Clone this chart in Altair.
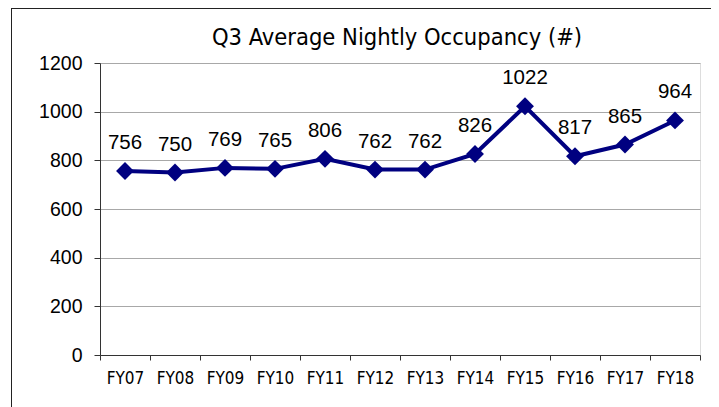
import altair as alt
import pandas as pd

years = ["FY07", "FY08", "FY09", "FY10", "FY11", "FY12", "FY13", "FY14", "FY15", "FY16", "FY17", "FY18"]
occupancy = [756, 750, 769, 765, 806, 762, 762, 826, 1022, 817, 865, 964]
title_text = "Q3 Average Nightly Occupancy (#)"

df = pd.DataFrame({"year": years, "value": occupancy})

NAVY = "#000080"
COND = "Liberation Sans Narrow, DejaVu Sans Condensed, Roboto Condensed, Arial Narrow, sans-serif"
SANS = "Liberation Sans, Arial, sans-serif"

x = alt.X("year:N", sort=years, title=None,
          scale=alt.Scale(paddingInner=0, paddingOuter=0),
          axis=alt.Axis(labelAngle=0, tickBand="extent", tickSize=5, labelPadding=10,
                        labelFont=COND, labelFontSize=17, labelColor="#000",
                        domainColor="#333", tickColor="#333", grid=False))
y = alt.Y("value:Q", title=None,
          scale=alt.Scale(domain=[0, 1200], nice=False),
          axis=alt.Axis(values=[0, 200, 400, 600, 800, 1000, 1200], format="d", tickSize=6, labelPadding=12,
                        labelFont=SANS, labelFontSize=19.5, labelColor="#000",
                        domainColor="#333", tickColor="#333",
                        gridColor="#a8a8a8", gridWidth=1))

base = alt.Chart(df)
line = base.mark_line(color=NAVY, strokeWidth=4, point=alt.OverlayMarkDef(shape="diamond", size=320, filled=True, color=NAVY, opacity=1)).encode(x=x, y=y)
labels = base.mark_text(dy=-28, font=SANS, fontSize=20.5, color="#000").encode(
    x=alt.X("year:N", sort=years), y="value:Q", text="value:Q")

title = alt.Chart(pd.DataFrame({"t": [title_text]})).mark_text(
    font=COND, fontSize=23.5, color="#000", baseline="middle", align="center").encode(
    x=alt.value(297), y=alt.value(-25), text="t:N")

border_top = alt.Chart(df).mark_rule(color="#222", strokeWidth=1).encode(
    x=alt.value(-88), x2=alt.value(620), y=alt.value(-54.5))
border_left = alt.Chart(df).mark_rule(color="#222", strokeWidth=1).encode(
    x=alt.value(-88.5), y=alt.value(-55), y2=alt.value(345))

chart = alt.layer(line, labels, title, border_top, border_left).properties(
    width=600, height=292,
    padding={"left": 92, "top": 55, "right": 11, "bottom": 52},
    autosize=alt.AutoSizeParams(type="none"),
).configure_view(stroke="#999", strokeWidth=1.5).configure(background="white")

chart.save("out.html", embed_options={"renderer": "svg", "actions": False})
